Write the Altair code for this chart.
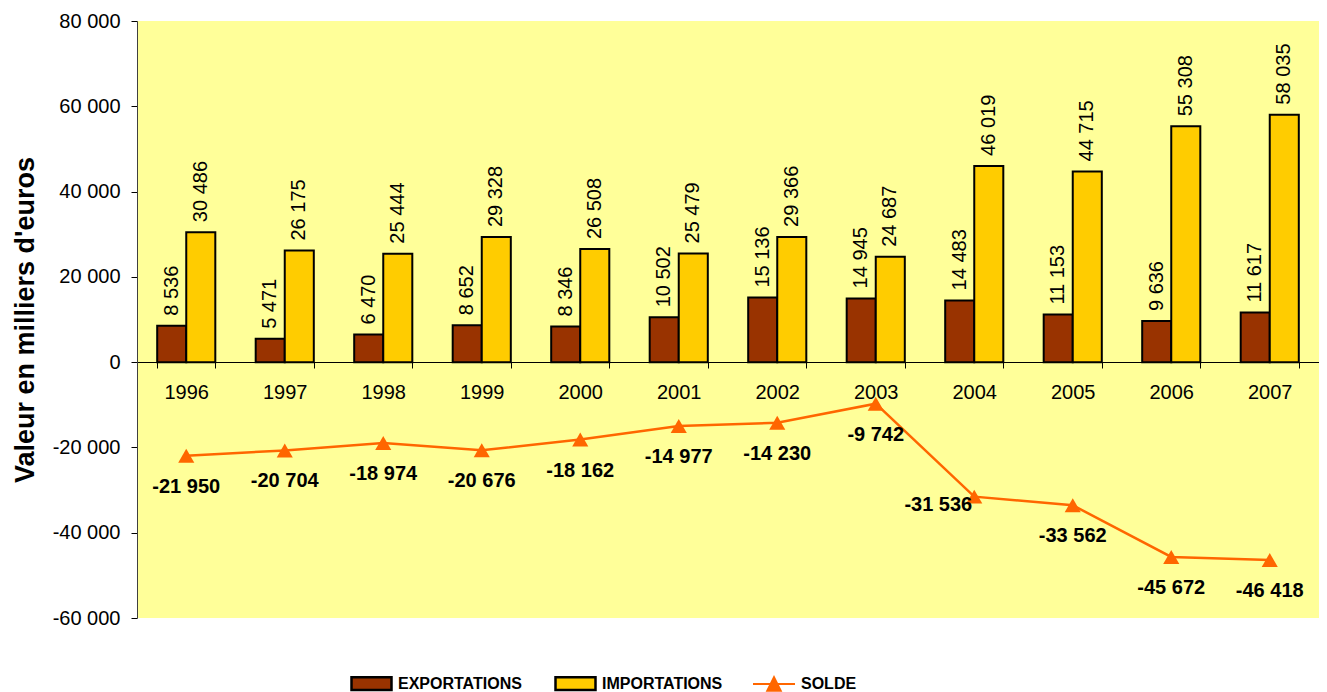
import altair as alt
import pandas as pd

years = ["1996", "1997", "1998", "1999", "2000", "2001", "2002", "2003", "2004", "2005", "2006", "2007"]
exportations = [8536, 5471, 6470, 8652, 8346, 10502, 15136, 14945, 14483, 11153, 9636, 11617]
importations = [30486, 26175, 25444, 29328, 26508, 25479, 29366, 24687, 46019, 44715, 55308, 58035]
solde = [-21950, -20704, -18974, -20676, -18162, -14977, -14230, -9742, -31536, -33562, -45672, -46418]
y_ticks = [-60000, -40000, -20000, 0, 20000, 40000, 60000, 80000]


def fmt(v):
    return f"{v:,}".replace(",", " ")


bars_df = pd.DataFrame({
    "annee": years * 2,
    "serie": ["EXPORTATIONS"] * len(years) + ["IMPORTATIONS"] * len(years),
    "valeur": exportations + importations,
})
bars_df["label"] = bars_df["valeur"].map(fmt)

solde_df = pd.DataFrame({"annee": years, "valeur": solde, "serie": ["SOLDE"] * len(years)})
solde_df["label"] = solde_df["valeur"].map(fmt)

FONT = "Liberation Sans"

x_enc = alt.X(
    "annee:N",
    scale=alt.Scale(paddingInner=0.41, paddingOuter=0.205),
    axis=alt.Axis(
        title=None, orient="bottom", offset=-256, labelAngle=0,
        labelFontSize=20, labelFont=FONT, labelColor="black",
        domainColor="black", tickColor="black", tickSize=6, tickBand="extent",
        labelPadding=14, grid=False,
    ),
)
y_enc = alt.Y(
    "valeur:Q",
    scale=alt.Scale(domain=[-60000, 80000], nice=False),
    axis=alt.Axis(
        values=y_ticks, grid=False,
        labelExpr="replace(replace(format(datum.value, ','), regexp(',', 'g'), ' '), regexp('\u2212', 'g'), '-')",
        labelFontSize=20, labelFont=FONT, labelColor="black", labelPadding=11,
        tickSize=6, tickColor="black", domainColor="#404040",
        title="Valeur en milliers d'euros", titleFont=FONT, titleFontSize=27,
        titleFontWeight="bold", titleColor="black", titleAngle=270,
        titleX=-112, titleBaseline="middle",
    ),
)

bar_legend = alt.Legend(
    title=None, orient="none", legendX=213, legendY=641, direction="horizontal",
    symbolType="M-1,-0.32H1V0.32H-1Z", symbolSize=1600,
    symbolStrokeColor="black", symbolStrokeWidth=2.5,
    labelFont=FONT, labelFontSize=16, labelFontWeight="bold", labelColor="black",
    labelOffset=5, columnPadding=28, padding=0,
)
line_legend = alt.Legend(
    title=None, orient="none", legendX=615, legendY=641, direction="horizontal",
    symbolType="M-1,0H1M-0.32,0.32L0,-0.32L0.32,0.32Z", symbolSize=1764,
    symbolStrokeColor="#FF6600", symbolFillColor="#FF6600", symbolStrokeWidth=2,
    labelFont=FONT, labelFontSize=16, labelFontWeight="bold", labelColor="black",
    labelOffset=5, padding=0,
)

base_bars = alt.Chart(bars_df)

bars = base_bars.mark_bar(stroke="black", strokeWidth=2).encode(
    x=x_enc,
    xOffset=alt.XOffset("serie:N", scale=alt.Scale(paddingInner=0, paddingOuter=0)),
    y=y_enc,
    fill=alt.Fill(
        "serie:N",
        scale=alt.Scale(domain=["EXPORTATIONS", "IMPORTATIONS"], range=["#993300", "#FFCC00"]),
        legend=bar_legend,
    ),
)

bar_text = base_bars.mark_text(
    angle=270, align="left", baseline="middle", dx=10,
    fontSize=20, font=FONT, color="black",
).encode(
    x=alt.X("annee:N"),
    xOffset=alt.XOffset("serie:N"),
    y=alt.Y("valeur:Q"),
    text="label:N",
)

base_solde = alt.Chart(solde_df)

line = base_solde.mark_line(strokeWidth=2.5).encode(
    x=alt.X("annee:N"),
    y=alt.Y("valeur:Q"),
    stroke=alt.Stroke(
        "serie:N",
        scale=alt.Scale(domain=["SOLDE"], range=["#FF6600"]),
        legend=line_legend,
    ),
)

points = base_solde.mark_point(
    shape="triangle-up", filled=True, size=260, color="#FF6600", opacity=1
).encode(
    x=alt.X("annee:N"),
    y=alt.Y("valeur:Q"),
)

solde_text = base_solde.transform_filter(alt.datum.annee != "2004").mark_text(
    fontWeight="bold", fontSize=20, font=FONT, color="black", dy=31, baseline="middle"
).encode(
    x=alt.X("annee:N"),
    y=alt.Y("valeur:Q"),
    text="label:N",
)

solde_text_left = base_solde.transform_filter(alt.datum.annee == "2004").mark_text(
    fontWeight="bold", fontSize=20, font=FONT, color="black", dy=8, dx=-2,
    align="right", baseline="middle"
).encode(
    x=alt.X("annee:N"),
    y=alt.Y("valeur:Q"),
    text="label:N",
)

chart = alt.layer(bars, bar_text, line, points, solde_text, solde_text_left).properties(
    width=1182,
    height=597,
    autosize=alt.AutoSizeParams(type="none"),
    padding={"left": 129, "top": 13, "right": 0, "bottom": 80},
    background="white",
).configure_view(fill="#FFFF99", strokeWidth=0)

chart.save("out.html", embed_options={"renderer": "svg", "actions": False})
